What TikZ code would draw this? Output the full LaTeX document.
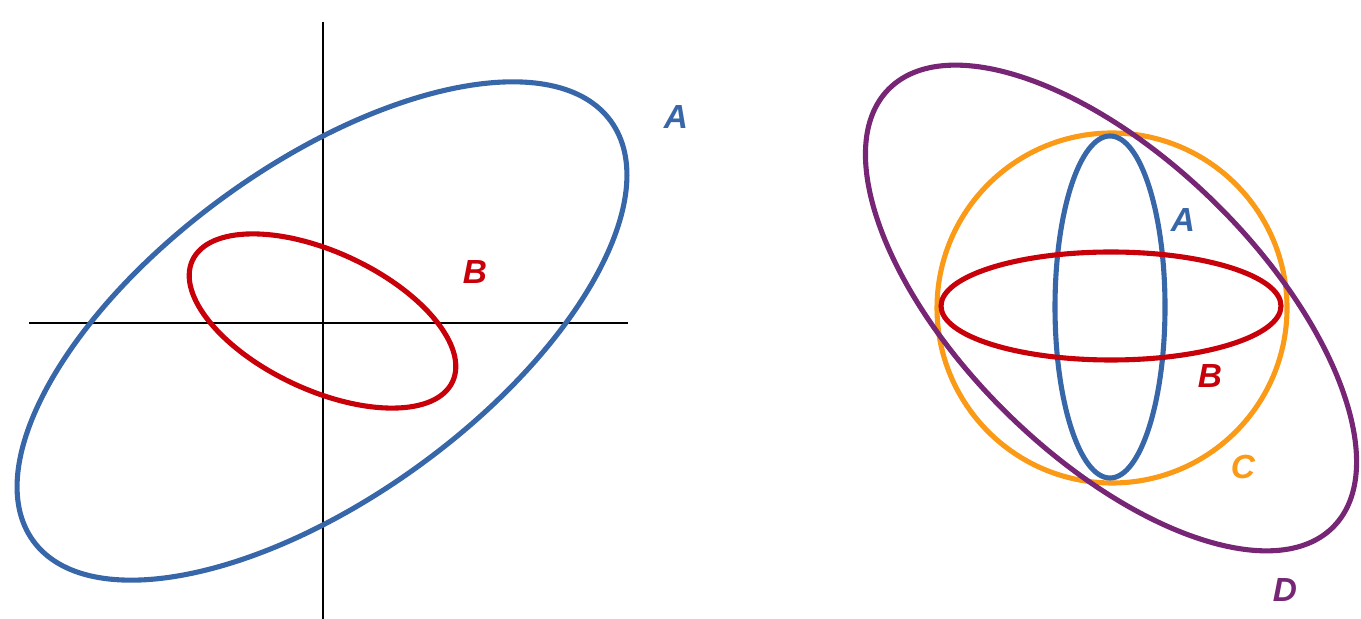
\documentclass[tikz,border=0pt]{standalone}
\usepackage{fontspec}
\setsansfont{Liberation Sans}
\usepackage{xcolor}
\usepackage{tikz}
\usetikzlibrary{positioning, calc}
\definecolor{ovalblue}{HTML}{3767A8}
\definecolor{ovalred}{HTML}{C8000A}
\definecolor{ovalorange}{HTML}{FA9A16}
\definecolor{ovalpurple}{HTML}{762674}

\begin{document}
\begin{tikzpicture}[x=0.01cm, y=-0.01cm,
    oval/.style={line width=1.45pt},
    axis/.style={line width=0.6pt, black},
    tag/.style={font=\fontsize{9.5}{11}\selectfont\sffamily\bfseries\itshape, inner sep=0pt}]
  \useasboundingbox (0,0) rectangle (1361,619);
  % left panel: axes
  \coordinate (ytop) at (323,22);
  \coordinate (ybot) at (323,619);
  \coordinate (xleft) at (29,323);
  \coordinate (xright) at (628,323);
  \draw[axis] (ytop) -- (ybot);
  \draw[axis] (xleft) -- (xright);
  % left panel: ellipses
  \draw[oval, ovalblue, rotate around={36:(322,331)}] (322,331) ellipse [x radius=357, y radius=166];
  \draw[oval, ovalred, rotate around={-25:(322.5,321)}] (322.5,321) ellipse [x radius=143.5, y radius=69];
  \node[tag, ovalblue] (tagA1) at (676,117) {A};
  \node[tag, ovalred] (tagB1) at (475,272) {B};
  % right panel
  \draw[oval, ovalorange] (1112,308) circle [radius=175];
  \draw[oval, ovalblue] (1110,307) ellipse [x radius=55, y radius=171];
  \draw[oval, ovalred] (1111,306) ellipse [x radius=170, y radius=54];
  \draw[oval, ovalpurple, rotate around={-44.5:(1111,308)}] (1111,308) ellipse [x radius=312, y radius=148];
  \node[tag, ovalblue] (tagA2) at (1183,220) {A};
  \node[tag, ovalred] (tagB2) at (1210,376) {B};
  \node[tag, ovalorange] (tagC) at (1243,467) {C};
  \node[tag, ovalpurple] (tagD) at (1285,590) {D};
\end{tikzpicture}
\end{document}
